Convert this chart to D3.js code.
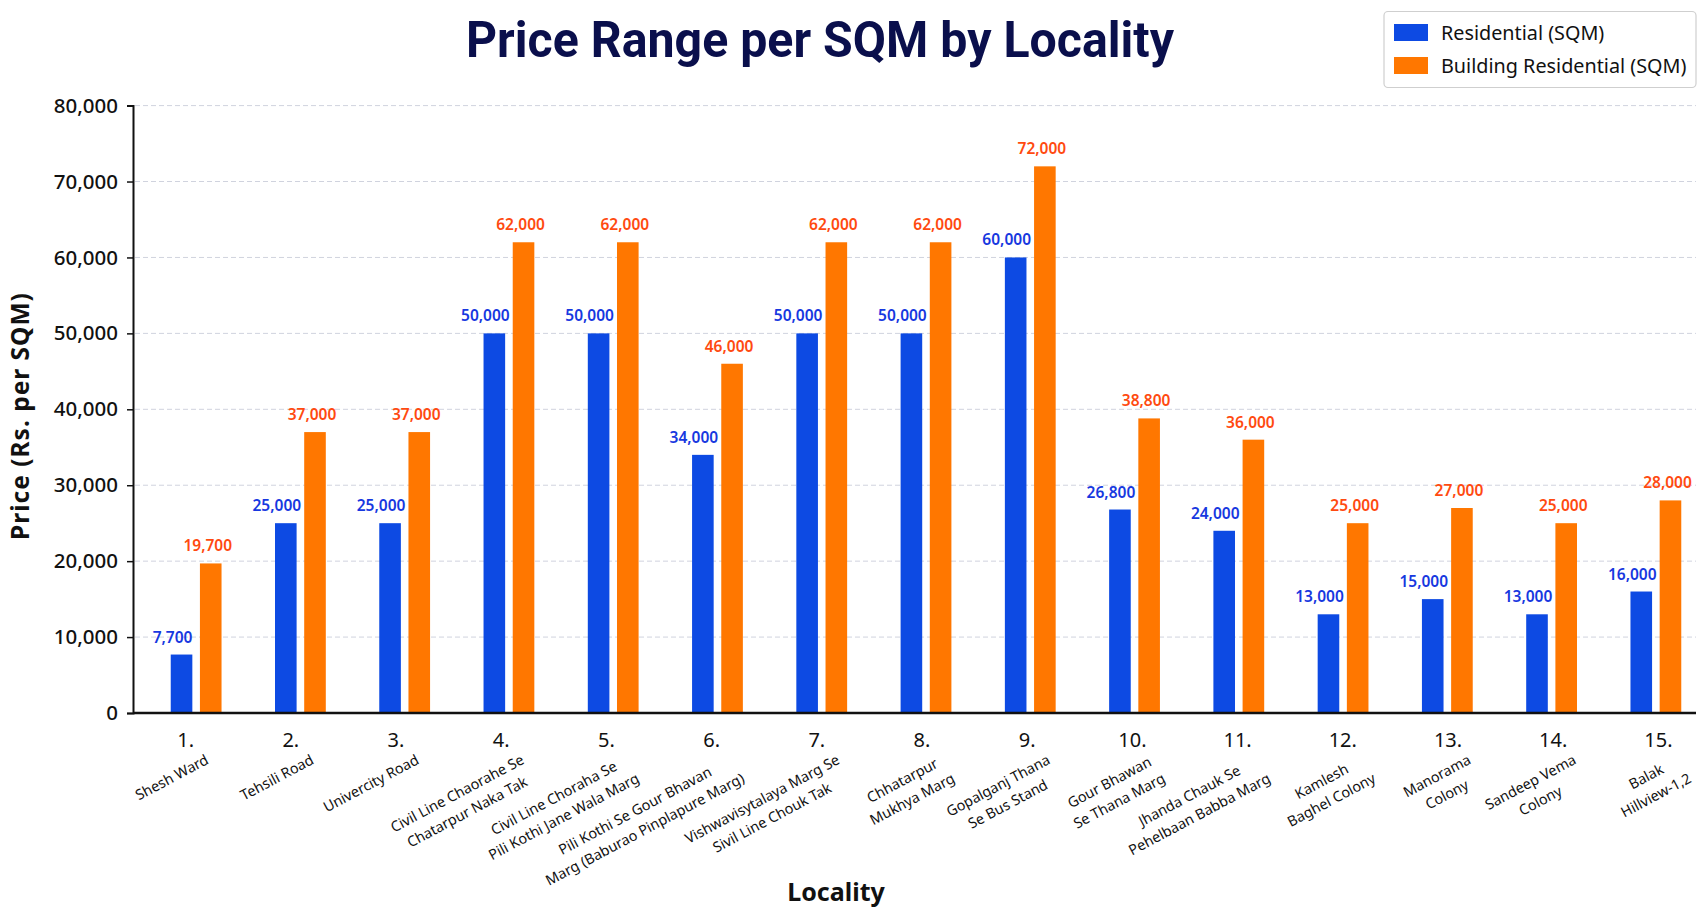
<!DOCTYPE html>
<html><head><meta charset="utf-8">
<script src="https://cdn.jsdelivr.net/npm/d3@7"></script>
<style>body{margin:0;background:#fff} svg{display:block;font-family:"Noto Sans",sans-serif}</style>
</head><body><svg id="chart" width="1707" height="921"></svg>
<script>
const indices = ["1.","2.","3.","4.","5.","6.","7.","8.","9.","10.","11.","12.","13.","14.","15."];
const localities = [
  ["Shesh Ward"],
  ["Tehsili Road"],
  ["Univercity Road"],
  ["Civil Line Chaorahe Se","Chatarpur Naka Tak"],
  ["Civil Line Choraha Se","Pili Kothi Jane Wala Marg"],
  ["Pili Kothi Se Gour Bhavan","Marg (Baburao Pinplapure Marg)"],
  ["Vishwavisytalaya Marg Se","Sivil Line Chouk Tak"],
  ["Chhatarpur","Mukhya Marg"],
  ["Gopalganj Thana","Se Bus Stand"],
  ["Gour Bhawan","Se Thana Marg"],
  ["Jhanda Chauk Se","Pehelbaan Babba Marg"],
  ["Kamlesh","Baghel Colony"],
  ["Manorama","Colony"],
  ["Sandeep Vema","Colony"],
  ["Balak","Hillview-1,2"]
];
const residential = [7700,25000,25000,50000,50000,34000,50000,50000,60000,26800,24000,13000,15000,13000,16000];
const buildingResidential = [19700,37000,37000,62000,62000,46000,62000,62000,72000,38800,36000,25000,27000,25000,28000];
const seriesNames = ["Residential (SQM)","Building Residential (SQM)"];
const yTicks = [0,10000,20000,30000,40000,50000,60000,70000,80000];
const titleText = "Price Range per SQM by Locality";
const yTitle = "Price (Rs. per SQM)";
const xTitle = "Locality";

const barColors = ["#0d4ae3","#ff7700"];
const labelColors = ["#1738e0","#ff4a10"];
const labelDx = [-9,-3];
const series = [residential, buildingResidential];

const svg = d3.select("#chart");
const L = 133, R = 1696, T = 105.6, B = 713;

const y = d3.scaleLinear().domain([0,80000]).range([B,T]);
const x = d3.scaleBand().domain(indices).range([144,1708]);
const xSub = d3.scaleBand().domain([0,1]).range([-25.4,25.4]).paddingInner(0.26);
const xTick = d3.scaleBand().domain(indices).range([133,1711]);

// gridlines
svg.append("g").selectAll("line").data(yTicks.filter(d=>d>0)).join("line")
  .attr("x1",L+2).attr("x2",R).attr("y1",d=>y(d)).attr("y2",d=>y(d))
  .attr("stroke","#d0d3de").attr("stroke-width",1).attr("stroke-dasharray","5,3");

// bars
const groups = svg.append("g").selectAll("g").data(indices).join("g")
  .attr("transform",d=>`translate(${x(d)+x.bandwidth()/2},0)`);
series.forEach((vals,s)=>{
  groups.append("rect")
    .attr("x",xSub(s)).attr("width",xSub.bandwidth())
    .attr("y",(d,i)=>y(vals[i])).attr("height",(d,i)=>B-y(vals[i]))
    .attr("fill",barColors[s]);
  groups.append("text")
    .attr("x",xSub(s)+xSub.bandwidth()/2+labelDx[s])
    .attr("y",(d,i)=>y(vals[i])-12)
    .attr("text-anchor","middle")
    .attr("font-size",15.5).attr("font-weight",600)
    .attr("fill",labelColors[s])
    .text((d,i)=>d3.format(",")(vals[i]));
});

// y axis
const yAxis = svg.append("g").attr("transform",`translate(${L},0)`)
  .call(d3.axisLeft(y).tickValues(yTicks).tickFormat(d3.format(",")).tickSize(6).tickPadding(9));
yAxis.select(".domain").attr("stroke","#111").attr("stroke-width",2);
yAxis.selectAll(".tick line").attr("stroke","#111").attr("stroke-width",1.5);
yAxis.selectAll(".tick text").attr("font-size",20.5).attr("font-weight",500).attr("fill","#111").attr("font-family","Noto Sans");

// x axis
const xAxis = svg.append("g").attr("transform",`translate(0,${B})`)
  .call(d3.axisBottom(xTick).tickSize(0).tickPadding(20));
xAxis.select(".domain").attr("d",`M${L},0H${R}`).attr("stroke","#111").attr("stroke-width",2.5);
xAxis.selectAll(".tick text").attr("font-size",20).attr("fill","#111").attr("font-family","Noto Sans");

// locality name labels
const nameG = svg.append("g").selectAll("g").data(indices).join("g")
  .attr("transform",d=>`translate(${xTick(d)+xTick.bandwidth()/2+24},763) rotate(-28)`);
nameG.each(function(d,i){
  const g = d3.select(this);
  const texts = localities[i].map((line,j)=>g.append("text")
    .attr("y",j*21).attr("text-anchor","middle")
    .attr("font-size",14.4).attr("fill","#111").text(line));
  const maxW = d3.max(texts,t=>t.node().getComputedTextLength());
  texts.forEach(t=>t.attr("x",-maxW/2));
});

// axis titles
svg.append("text").attr("transform","translate(22,416) rotate(-90)")
  .attr("text-anchor","middle").attr("dominant-baseline","middle")
  .attr("font-size",24.5).attr("font-weight",700).attr("letter-spacing",1).attr("fill","#111").text(yTitle);
svg.append("text").attr("x",836).attr("y",901).attr("text-anchor","middle")
  .attr("font-size",25).attr("font-weight",700).attr("fill","#111").text(xTitle);

// title
svg.append("text").attr("x",820).attr("y",57).attr("text-anchor","middle")
  .attr("font-family","Roboto").attr("font-weight",700).attr("font-size",50)
  .attr("textLength",708).attr("lengthAdjust","spacingAndGlyphs")
  .attr("fill","#0a0f4c").text(titleText);

// legend
const lg = svg.append("g");
lg.append("rect").attr("x",1384).attr("y",11.5).attr("width",312).attr("height",76).attr("rx",4)
  .attr("fill","#fff").attr("stroke","#cfcfcf").attr("stroke-width",1.2);
seriesNames.forEach((n,s)=>{
  lg.append("rect").attr("x",1394).attr("y",24+s*33).attr("width",34).attr("height",17).attr("fill",barColors[s]);
  lg.append("text").attr("x",1441).attr("y",39.5+s*33).attr("font-size",19.8).attr("fill","#111").text(n);
});
</script></body></html>
